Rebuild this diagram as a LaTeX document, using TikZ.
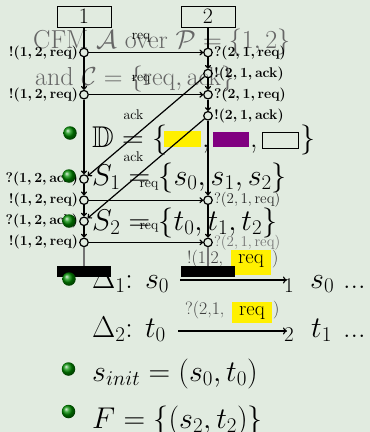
\documentclass[tikz,border=0pt]{standalone}
\usepackage{fix-cm}
\usepackage{amssymb}
\usetikzlibrary{arrows.meta,shadings}
\definecolor{bg}{RGB}{225,235,224}
\definecolor{hl}{RGB}{255,240,0}
\definecolor{pur}{RGB}{128,0,128}
\tikzset{
  txt/.style={inner sep=0pt, anchor=base west, font=\fontsize{30}{36}\selectfont},
  toptxt/.style={inner sep=0pt, anchor=base west, text=black!60, font=\fontsize{26}{32}\selectfont},
  labtxt/.style={inner sep=0pt, anchor=base west, text=black!75, font=\fontsize{17.8}{20}\selectfont},
  hltxt/.style={inner sep=0pt, anchor=base, font=\fontsize{20.5}{22}\selectfont},
  subtxt/.style={inner sep=0pt, anchor=base west, font=\fontsize{21}{24}\selectfont},
  ev/.style={circle, draw, line width=1.2pt, minimum size=8.5pt, inner sep=0pt},
  evlab/.style={inner sep=1pt, font=\fontsize{14}{16}\selectfont\boldmath},
  evlabl/.style={inner sep=1pt, font=\fontsize{15}{17}\selectfont},
  msg/.style={line width=1.2pt, -{To[length=3.8pt,width=6pt]}},
  mlab/.style={inner sep=0pt, font=\fontsize{14}{16}\selectfont},
  life/.style={line width=1.2pt},
  proc/.style={draw, line width=0.8pt, minimum width=54pt, minimum height=21pt, inner sep=0pt, font=\fontsize{22}{24}\selectfont},
  endbar/.style={fill=black, minimum width=54pt, minimum height=11pt, inner sep=0pt},
  bul/.style={circle, ball color=green!55!black, minimum size=13.5pt, inner sep=0pt},
  swatch/.style={inner sep=0pt, anchor=north west},
}
\begin{document}
\begin{tikzpicture}[x=1pt,y=-1pt]
\fill[bg] (0,0) rectangle (370,432);
\useasboundingbox (0,0) rectangle (370,432);

% slide text
\node[toptxt] (l1) at (33,48) {CFM $\mathcal{A}$ over $\mathcal{P} = \{1,2\}$};
\node[toptxt] (l2) at (35,85) {and $\mathcal{C} = \{\mathrm{req}, \mathrm{ack}\}$};

\node[txt] (dd) at (92,147) {$\mathbb{D} = \{$};
\node[swatch, fill=hl, minimum width=37pt, minimum height=16pt] (sw1) at (164,131) {};
\node[txt] (c1) at (202,147) {,};
\node[swatch, fill=pur, minimum width=36pt, minimum height=15pt] (sw2) at (213,132) {};
\node[txt] (c2) at (250,147) {,};
\node[swatch, draw=black, line width=1pt, minimum width=36pt, minimum height=16pt] (sw3) at (262,132) {};
\node[txt] (cb) at (300,147) {$\}$};

\node[txt] (s1) at (92,185) {$S_1 = \{s_0, s_1, s_2\}$};
\node[txt] (s2) at (92,230) {$S_2 = \{t_0, t_1, t_2\}$};

\node[txt] (d1) at (92,288) {$\Delta_1$: $s_0$};
\coordinate (d1a) at (180,280);
\coordinate (d1b) at (287,280);
\draw[line width=1.1pt, -{To[length=4pt,width=7pt]}] (d1a) -- (d1b);
\node[labtxt] (d1l) at (187,263) {!(1,2,};
\node[swatch, fill=hl, minimum width=40pt, minimum height=25pt] (hl1) at (231,250) {};
\node[hltxt] (hr1) at (251,263) {req};
\node[labtxt] (d1r) at (272,263) {)};
\node[subtxt] (d1s) at (284,292) {1};
\node[txt] (d1t) at (310,288) {$s_0$};
\node[txt] (d1e) at (343,288) {...};

\node[txt] (d2) at (92,337) {$\Delta_2$: $t_0$};
\coordinate (d2a) at (178,331);
\coordinate (d2b) at (287,331);
\draw[line width=1.1pt, -{To[length=4pt,width=7pt]}] (d2a) -- (d2b);
\node[labtxt] (d2l) at (185,314) {?(2,1,};
\node[swatch, fill=hl, minimum width=40pt, minimum height=21pt] (hl2) at (232,302) {};
\node[hltxt] (hr2) at (252,315) {req};
\node[labtxt] (d2r) at (273,314) {)};
\node[subtxt] (d2s) at (284,341) {2};
\node[txt] (d2t) at (311,337) {$t_1$};
\node[txt] (d2e) at (343,337) {...};

\node[txt] (si) at (92,381) {$s_{init} = (s_0, t_0)$};
\node[txt] (ff) at (92,428) {$F = \{(s_2, t_2)\}$};

% MSC
\node[proc] (p1) at (84,16.5) {1};
\node[proc] (p2) at (208,16.5) {2};
\node[endbar] (e1) at (84,271.5) {};
\node[endbar] (e2) at (208,271.5) {};

\foreach \n/\y in {a0/52.5, a1/94.7, a2/179.1, a3/200.2, a4/221.3, a5/242.4}
  \node[ev] (\n) at (84,\y) {};
\foreach \n/\y in {b0/52.5, b1/73.6, b2/94.7, b3/115.8, b4/200.2, b5/242.4}
  \node[ev] (\n) at (208,\y) {};

\draw[life] (p1) -- (a0);
\draw[msg] (a0) -- (a1);
\draw[msg] (a1) -- (a2);
\draw[msg] (a2) -- (a3);
\draw[msg] (a3) -- (a4);
\draw[msg] (a4) -- (a5);
\draw[life, black!55] (a5) -- (e1);

\draw[life] (p2) -- (b0);
\draw[msg] (b0) -- (b1);
\draw[msg] (b1) -- (b2);
\draw[msg] (b2) -- (b3);
\draw[msg] (b3) -- (b4);
\draw[msg] (b4) -- (b5);
\draw[life, black!55] (b5) -- (e2);

\draw[msg] (a0) -- node[mlab, pos=0.457, above=9.5pt] {req} (b0);
\draw[msg] (a1) -- node[mlab, pos=0.457, above=9.5pt] {req} (b2);
\draw[msg] (b1) -- node[mlab, pos=0.5, anchor=south east, xshift=-2pt, yshift=6.5pt] {ack} (a2);
\draw[msg] (b3) -- node[mlab, pos=0.5, anchor=south east, xshift=-2pt, yshift=6.5pt] {ack} (a4);
\draw[msg] (a3) -- node[mlab, pos=0.526, above=9.5pt] {req} (b4);
\draw[msg] (a5) -- node[mlab, pos=0.526, above=9.5pt] {req} (b5);

\node[evlab, anchor=east] at (a0.west) {$!(1,2,\mathrm{req})$};
\node[evlab, anchor=east] at (a1.west) {$!(1,2,\mathrm{req})$};
\node[evlab, anchor=east] at (a2.west) {$?(1,2,\mathrm{ack})$};
\node[evlab, anchor=east] at (a3.west) {$!(1,2,\mathrm{req})$};
\node[evlab, anchor=east] at (a4.west) {$?(1,2,\mathrm{ack})$};
\node[evlab, anchor=east] at (a5.west) {$!(1,2,\mathrm{req})$};

\node[evlab, anchor=west] at (b0.east) {$?(2,1,\mathrm{req})$};
\node[evlab, anchor=west] at (b1.east) {$!(2,1,\mathrm{ack})$};
\node[evlab, anchor=west] at (b2.east) {$?(2,1,\mathrm{req})$};
\node[evlab, anchor=west] at (b3.east) {$!(2,1,\mathrm{ack})$};
\node[evlabl, anchor=west, text=black!85] at (b4.east) {$?(2,1,\mathrm{req})$};
\node[evlabl, anchor=west, text=black!55] at (b5.east) {$?(2,1,\mathrm{req})$};

% bullets
\node[bul] (u1) at (70,133) {};
\node[bul] (u2) at (69,176) {};
\node[bul] (u3) at (69,221) {};
\node[bul] (u4) at (69,279) {};
\node[bul] (u5) at (68.5,369) {};
\node[bul] (u6) at (68.5,411.5) {};
\end{tikzpicture}
\end{document}
